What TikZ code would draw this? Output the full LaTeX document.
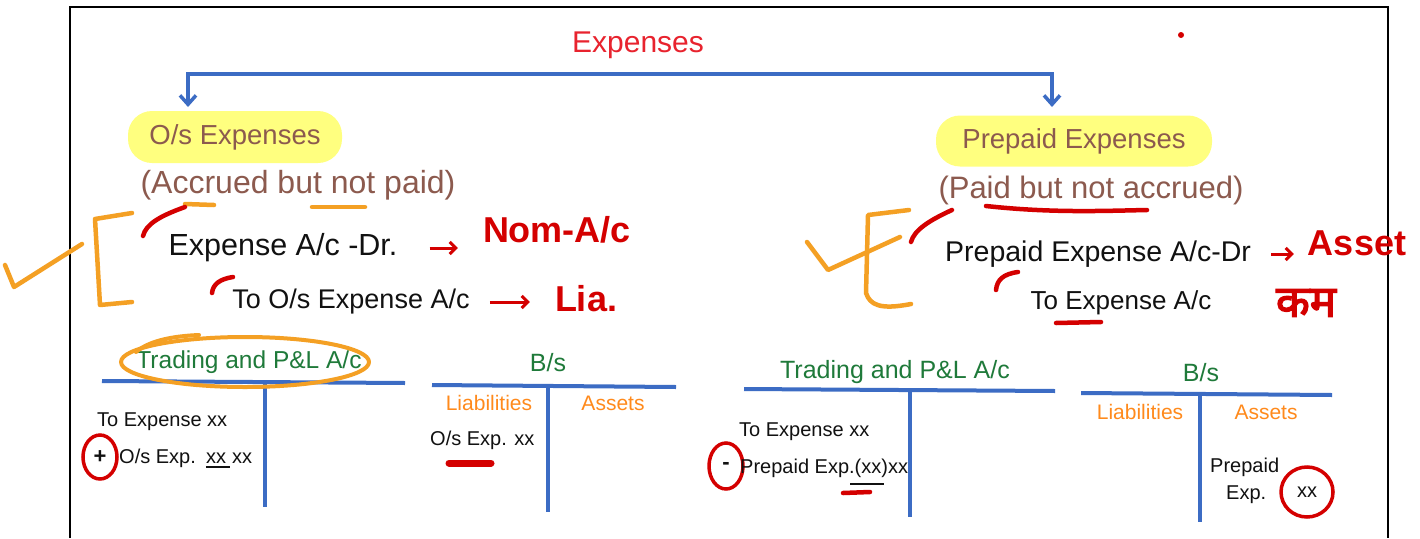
\documentclass[tikz,border=0pt]{standalone}
\usepackage{fontspec}
\setmainfont{Liberation Sans}
\newfontfamily\devfont[Script=Devanagari,FakeBold=3]{Noto Sans}
\usetikzlibrary{arrows.meta}
\definecolor{titlered}{HTML}{E8232E}
\definecolor{dred}{HTML}{D40000}
\definecolor{brown}{HTML}{8C5A4E}
\definecolor{hiyellow}{HTML}{FFFF7F}
\definecolor{tblue}{HTML}{3C6CC4}
\definecolor{tgreen}{HTML}{1F7A3A}
\definecolor{ostroke}{HTML}{F4A024}
\definecolor{otext}{HTML}{FF8A1C}
\definecolor{ink}{HTML}{111111}
\tikzset{
  txt/.style={inner sep=0pt, text=ink},
  hilite/.style={fill=hiyellow, rounded corners=24pt, inner sep=0pt, text=brown},
  bluetree/.style={draw=tblue, line width=3.5pt, arrows={Straight Barb[length=9pt,width=16pt]-Straight Barb[length=9pt,width=16pt]}},
  tline/.style={draw=tblue, line width=4pt},
  ostr/.style={draw=ostroke, line width=4.5pt, line cap=round, line join=round},
  rstr/.style={draw=dred, line width=4.5pt, line cap=round, line join=round},
  redarrow/.style={draw=dred, line width=3pt, -{Straight Barb[length=6pt,width=12pt]}},
  rtxt/.style={inner sep=0pt, text=dred, font=\bfseries\fontsize{36}{40}\selectfont},
  gtxt/.style={inner sep=0pt, text=tgreen},
  otxt/.style={inner sep=0pt, text=otext, font=\fontsize{21}{24}\selectfont},
  small/.style={inner sep=0pt, text=ink, font=\fontsize{20}{24}\selectfont},
}
\begin{document}
\begin{tikzpicture}[x=1pt,y=-1pt]
\useasboundingbox (0,0) rectangle (1420,538);
\fill[white] (0,0) rectangle (1420,538);
% frame
\draw[line width=2pt, black] (70,538) -- (70,7) -- (1388,7) -- (1388,538);
% title
\node[inner sep=0pt, text=titlered, font=\fontsize{30}{34}\selectfont] (title) at (638,45) {Expenses};
\fill[dred] (1181,35) circle (3pt);
% blue tree
\coordinate (L) at (188,107);
\coordinate (R) at (1052,107);
\draw[bluetree] (L) -- (188,74) -- (1052,74) -- (R);
% highlights
\node[hilite, minimum width=214pt, minimum height=52pt, font=\fontsize{27.5}{30}\selectfont] (os) at (235,137) {O/s Expenses};
\node[hilite, minimum width=276pt, minimum height=51pt, font=\fontsize{27.5}{30}\selectfont] (pre) at (1074,141) {Prepaid Expenses};
\node[inner sep=0pt, text=brown, font=\fontsize{32}{36}\selectfont] (acc) at (298,185) {(Accrued but not paid)};
\node[inner sep=0pt, text=brown, font=\fontsize{31}{36}\selectfont] (pba) at (1091,190) {(Paid but not accrued)};
% underlines
\draw[ostr] (185,204) -- (214,205);
\draw[ostr] (312,207) -- (365,207);
\draw[rstr] (986,206) .. controls (1050,213) and (1100,211) .. (1147,210);
% left journal
\node[txt, font=\fontsize{30.5}{34}\selectfont] (e1) at (283,248) {Expense A/c -Dr.};
\node[rtxt] (nom) at (557,230) {Nom-A/c};
\draw[redarrow, shorten <=32pt, shorten >=25pt] (e1.east) -- (e1.east -| nom.west);
\node[txt, font=\fontsize{27}{30}\selectfont] (e2) at (351,302) {To O/s Expense A/c};
\node[rtxt] (lia) at (586,299) {Lia.};
\draw[redarrow, shorten <=20pt, shorten >=25pt] (e2.east) -- (e2.east -| lia.west);
% left bracket and tick
\draw[ostr] (132,213) -- (95,219) -- (100,305) -- (132,302);
\draw[ostr] (5,265) -- (14,287) -- (82,244);
\draw[rstr] (185,207) .. controls (160,216) and (146,224) .. (143,236);
\draw[rstr] (233,277) .. controls (220,279) and (213,284) .. (212,293);
% right journal
\node[txt, font=\fontsize{28.5}{32}\selectfont] (p1) at (1098,254) {Prepaid Expense A/c-Dr};
\node[rtxt] (asset) at (1357,243) {Asset};
\draw[redarrow, shorten <=20pt, shorten >=14pt] (p1.east) -- (p1.east -| asset.west);
\node[txt, font=\fontsize{26}{30}\selectfont] (p2) at (1121,303) {To Expense A/c};
\node[inner sep=0pt, text=dred, font=\devfont\fontsize{44}{48}\selectfont] (kam) at (1306,303) {कम};
\draw[rstr] (1056,323) -- (1101,322);
% right bracket and tick
\draw[ostr] (909,210) -- (868,215) -- (866,293) .. controls (870,305) and (880,310) .. (911,304);
\draw[ostr] (807,242) -- (828,270) -- (900,237);
\draw[rstr] (952,210) .. controls (930,220) and (914,230) .. (911,242);
\draw[rstr] (1018,272) .. controls (1003,274) and (997,280) .. (996,290);
% ---------- bottom left: Trading and P&L
\node[gtxt, font=\fontsize{24.5}{28}\selectfont] (tl1) at (249,362) {Trading and P\&L A/c};
\draw[tline] (102,381) -- (405,383);
\draw[tline] (265,383) -- (265,507);
\draw[ostr, line width=4pt] (245,362) ellipse (124pt and 25pt);
\draw[ostr, line width=4pt] (136,352) .. controls (150,340) and (175,336) .. (199,335);
\node[small, anchor=west] (te1) at (97,422) {To Expense xx};
\node[inner sep=0pt, text=ink, font=\bfseries\fontsize{22}{24}\selectfont] (plus) at (100,457) {+};
\draw[draw=dred, line width=3.5pt] (plus) ellipse (17pt and 22pt);
\node[small, anchor=west] (ose) at (119,458) {O/s Exp.};
\node[small] (xa) at (216,458) {xx};
\node[small] (xb) at (242,458) {xx};
\draw[line width=2pt, ink] (xa.south west) ++(0,4) -- ++(24,0);
% B/s left
\node[gtxt, font=\fontsize{25}{28}\selectfont] (bs1) at (548,363) {B/s};
\draw[tline] (432,385) -- (676,387);
\draw[tline] (548,386) -- (548,512);
\node[otxt] (li1) at (489,403) {Liabilities};
\node[otxt] (as1) at (613,403) {Assets};
\node[small, anchor=west] (ose2) at (430,440) {O/s Exp. xx};
\draw[draw=dred, line width=7pt, line cap=round] (449,463) -- (491,463);
% ---------- bottom right
\node[gtxt, font=\fontsize{25}{28}\selectfont] (tl2) at (895,372) {Trading and P\&L A/c};
\draw[tline] (744,389) -- (1055,391);
\draw[tline] (910,390) -- (910,517);
\node[small, anchor=west] (te2) at (739,432) {To Expense xx};
\node[inner sep=0pt, text=ink, font=\bfseries\fontsize{22}{24}\selectfont] (minus) at (726,466) {-};
\draw[draw=dred, line width=3.5pt] (minus) ellipse (17pt and 23pt);
\node[small, anchor=west] (pe) at (740,468) {Prepaid Exp.(xx)xx};
\draw[line width=2pt, ink] (850,484) -- (884,484);
\draw[rstr] (843,493) -- (870,492);
% B/s right
\node[gtxt, font=\fontsize{25}{28}\selectfont] (bs2) at (1201,373) {B/s};
\draw[tline] (1081,393) -- (1332,395);
\draw[tline] (1200,394) -- (1200,522);
\node[otxt] (li2) at (1140,412) {Liabilities};
\node[otxt] (as2) at (1266,412) {Assets};
\node[small, anchor=west] (pp) at (1210,467) {Prepaid};
\node[small, anchor=west] (pex) at (1226,495) {Exp.};
\node[small] (xc) at (1307,492) {xx};
\draw[draw=dred, line width=3.5pt] (xc) ellipse (26pt and 25pt);
\end{tikzpicture}
\end{document}
